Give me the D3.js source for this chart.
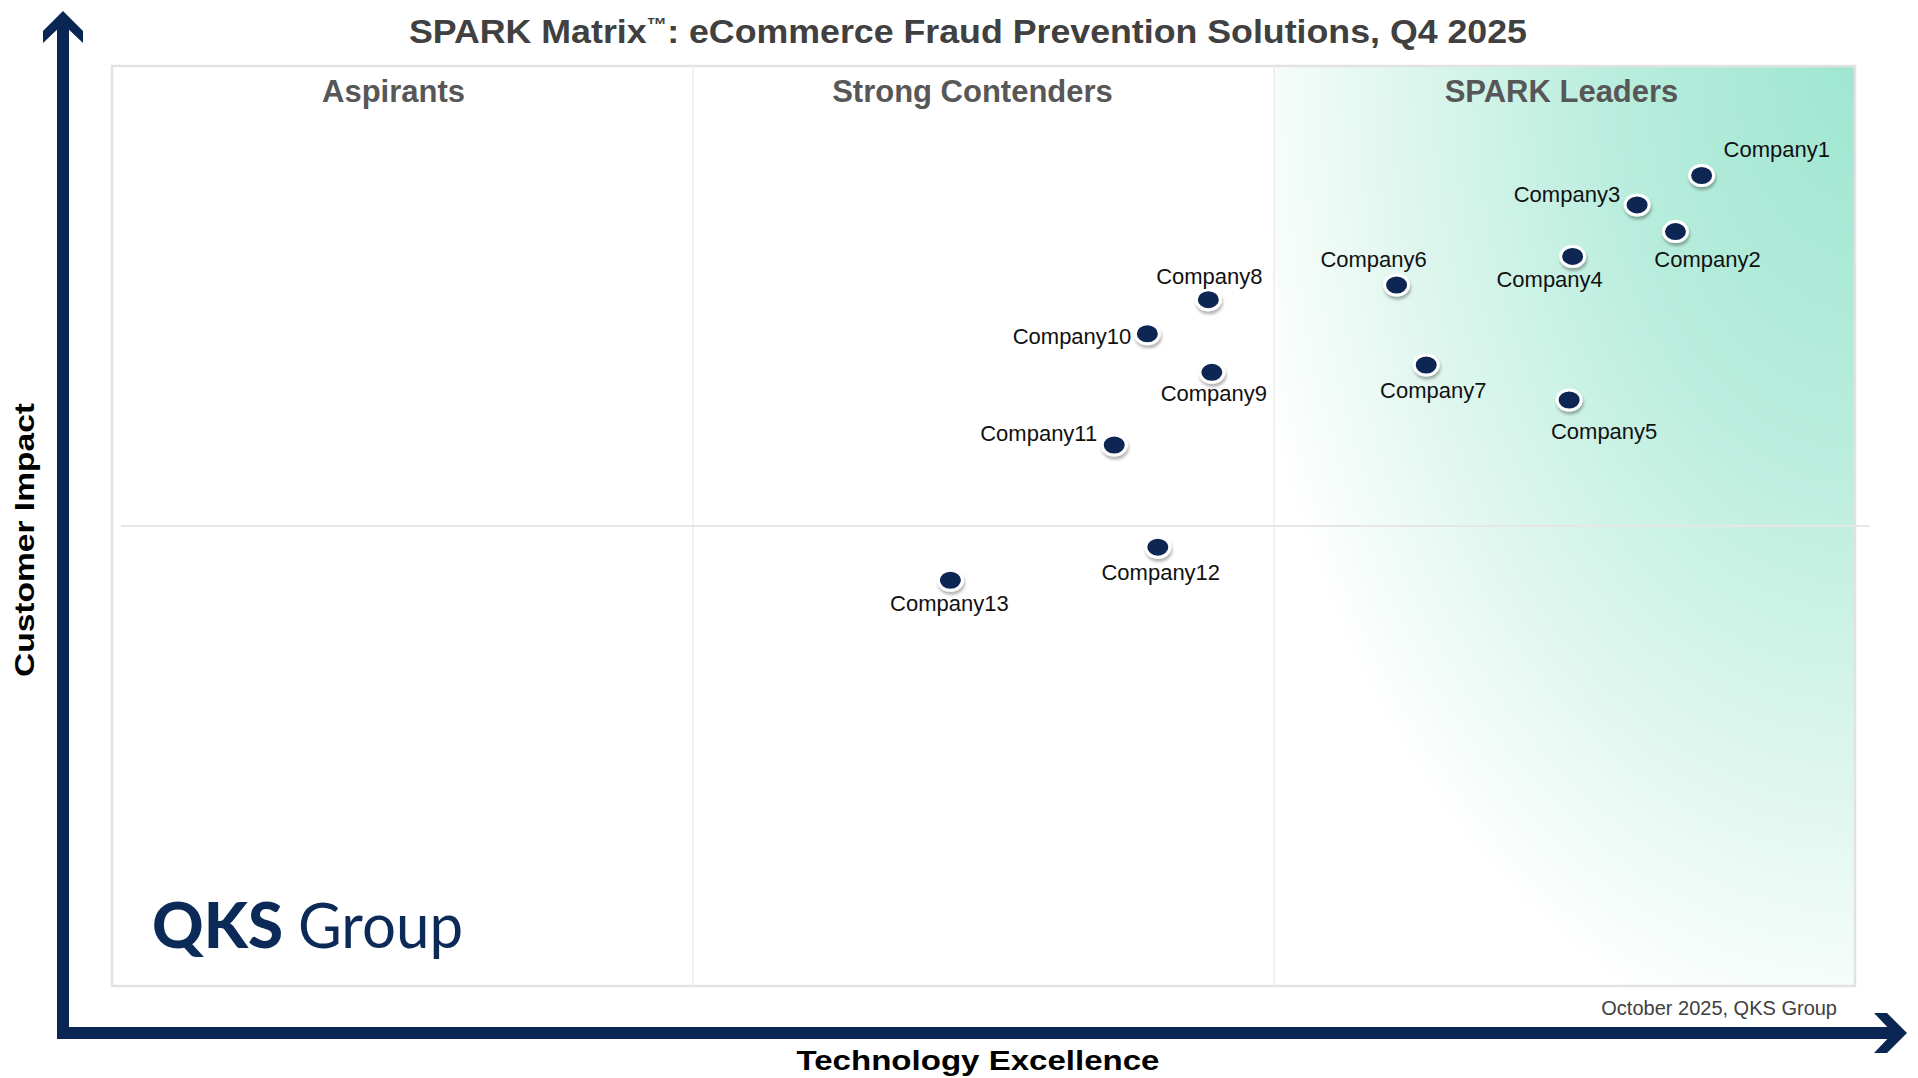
<!DOCTYPE html>
<html>
<head>
<meta charset="utf-8">
<script src="https://cdn.jsdelivr.net/npm/d3@7"></script>
<style>
  body { margin: 0; background: #fff; }
  svg { display: block; font-family: "Liberation Sans", Arial, sans-serif; }
</style>
</head>
<body>
<svg width="1918" height="1078"></svg>
<script>
// data (0-100 on both axes)
var companies = ["Company1", "Company2", "Company3", "Company4", "Company5", "Company6", "Company7",
                 "Company8", "Company9", "Company10", "Company11", "Company12", "Company13"];
var techExcellence = [91.2, 89.7, 87.5, 83.8, 83.6, 73.7, 75.4, 62.9, 63.1, 59.4, 57.5, 60.0, 48.1];
var customerImpact = [88.1, 82.0, 84.9, 79.3, 63.7, 76.2, 67.5, 74.6, 66.7, 70.9, 58.8, 47.7, 44.1];
var quadrants = ["Aspirants", "Strong Contenders", "SPARK Leaders"];

// where each label sits next to its dot
var labelPlace = [
  {anchor: "start", dx: 22, dy: -18},
  {anchor: "middle", dx: 32, dy: 35},
  {anchor: "end", dx: -17, dy: -3},
  {anchor: "middle", dx: -23, dy: 31},
  {anchor: "middle", dx: 35, dy: 39},
  {anchor: "middle", dx: -23, dy: -18},
  {anchor: "middle", dx: 7, dy: 33},
  {anchor: "middle", dx: 1, dy: -16},
  {anchor: "middle", dx: 2, dy: 29},
  {anchor: "end", dx: -16, dy: 10},
  {anchor: "end", dx: -17, dy: -4},
  {anchor: "middle", dx: 3, dy: 33},
  {anchor: "middle", dx: -1, dy: 31}
];

var svg = d3.select("svg");
var navy = "#0a2753";
// plot box (note: "top" is taken by window.top, so prefix everything)
var plotLeft = 112, plotRight = 1855, plotTop = 66, plotBottom = 986;

var x = d3.scaleLinear().domain([0, 100]).range([plotLeft, plotRight]);
var y = d3.scaleLinear().domain([0, 100]).range([plotBottom, plotTop]);

var defs = svg.append("defs");

// mint glow in the leaders column, strongest in the top right corner
var grad = defs.append("radialGradient")
    .attr("id", "leaders")
    .attr("cx", 1).attr("cy", 0).attr("r", 1.2)
    .attr("fx", 1).attr("fy", 0);
grad.append("stop").attr("offset", 0).attr("stop-color", "#9fe6d1");
grad.append("stop").attr("offset", 0.35).attr("stop-color", "#b9eddd");
grad.append("stop").attr("offset", 0.7).attr("stop-color", "#e4f8f1");
grad.append("stop").attr("offset", 0.9).attr("stop-color", "#ffffff");

var shadow = defs.append("filter").attr("id", "shadow")
    .attr("x", "-50%").attr("y", "-50%").attr("width", "200%").attr("height", "200%");
shadow.append("feDropShadow")
    .attr("dx", 1).attr("dy", 3).attr("stdDeviation", 1.5)
    .attr("flood-color", "#000").attr("flood-opacity", 0.3);

var col = [x(0), x(100 / 3), x(200 / 3), x(100)];

// leaders background
svg.append("rect")
    .attr("x", col[2]).attr("y", y(100))
    .attr("width", col[3] - col[2]).attr("height", y(0) - y(100))
    .attr("fill", "url(#leaders)");

// frame and dividers
svg.append("rect")
    .attr("x", plotLeft).attr("y", plotTop)
    .attr("width", plotRight - plotLeft).attr("height", plotBottom - plotTop)
    .attr("fill", "none").attr("stroke", "#e2e2e2").attr("stroke-width", 2.5);

svg.selectAll(".divider")
    .data([col[1], col[2]])
    .enter().append("line")
    .attr("class", "divider")
    .attr("x1", function(d) { return d; }).attr("x2", function(d) { return d; })
    .attr("y1", plotTop).attr("y2", plotBottom)
    .attr("stroke", "#ececec").attr("stroke-width", 1.5);

svg.append("line")
    .attr("x1", plotLeft + 9).attr("x2", plotRight + 15)
    .attr("y1", y(50)).attr("y2", y(50))
    .attr("stroke", "#e6e6e6").attr("stroke-width", 2);

// quadrant headings
var headOffset = [-9, -11, -3];
svg.selectAll(".quad")
    .data(quadrants)
    .enter().append("text")
    .attr("class", "quad")
    .attr("x", function(d, i) { return (col[i] + col[i + 1]) / 2 + headOffset[i]; })
    .attr("y", 102)
    .attr("text-anchor", "middle")
    .attr("font-size", 31)
    .attr("font-weight", "bold")
    .attr("fill", "#575757")
    .text(function(d) { return d; });

// title
var title = svg.append("text")
    .attr("x", 968).attr("y", 43)
    .attr("text-anchor", "middle")
    .attr("font-size", 33)
    .attr("font-weight", "bold")
    .attr("fill", "#404040")
    .attr("textLength", 1118)
    .attr("lengthAdjust", "spacingAndGlyphs");
title.append("tspan").text("SPARK Matrix");
title.append("tspan").attr("font-size", 19).attr("dy", -12).text("™");
title.append("tspan").attr("dy", 12).text(": eCommerce Fraud Prevention Solutions, Q4 2025");

// axes arrows
svg.append("rect").attr("x", 57).attr("y", 22).attr("width", 12).attr("height", 1017).attr("fill", navy);
svg.append("rect").attr("x", 57).attr("y", 1027).attr("width", 1838).attr("height", 12).attr("fill", navy);
svg.append("polygon")
    .attr("points", "63,11 83,31 83,43 63,24 43,43 43,31")
    .attr("fill", navy);
svg.append("polygon")
    .attr("points", "1874,1013 1887,1013 1907,1033 1887,1053 1874,1053 1893,1033")
    .attr("fill", navy);

// axis titles
svg.append("text")
    .attr("transform", "translate(34,540) rotate(-90)")
    .attr("text-anchor", "middle")
    .attr("font-size", 27)
    .attr("font-weight", "bold")
    .attr("fill", "#000")
    .attr("textLength", 274)
    .attr("lengthAdjust", "spacingAndGlyphs")
    .text("Customer Impact");

svg.append("text")
    .attr("x", 978).attr("y", 1070)
    .attr("text-anchor", "middle")
    .attr("font-size", 27)
    .attr("font-weight", "bold")
    .attr("fill", "#000")
    .attr("textLength", 363)
    .attr("lengthAdjust", "spacingAndGlyphs")
    .text("Technology Excellence");

svg.append("text")
    .attr("x", 1837).attr("y", 1015)
    .attr("text-anchor", "end")
    .attr("font-size", 20)
    .attr("fill", "#404040")
    .text("October 2025, QKS Group");

// QKS Group logo
svg.append("text")
    .attr("x", 152).attr("y", 948)
    .attr("font-family", "Lato, 'Open Sans', sans-serif")
    .attr("font-size", 62)
    .attr("font-weight", 900)
    .attr("fill", "#0c2a57")
    .attr("textLength", 131)
    .attr("lengthAdjust", "spacingAndGlyphs")
    .text("QKS");
svg.append("text")
    .attr("x", 298).attr("y", 948)
    .attr("font-family", "Lato, 'Open Sans', sans-serif")
    .attr("font-size", 62)
    .attr("font-weight", 400)
    .attr("fill", "#0c2a57")
    .attr("textLength", 165)
    .attr("lengthAdjust", "spacingAndGlyphs")
    .text("Group");

// the companies
var points = companies.map(function(name, i) {
  return {name: name, x: techExcellence[i], y: customerImpact[i], place: labelPlace[i]};
});

var dots = svg.append("g").attr("class", "dots");

dots.selectAll("ellipse")
    .data(points)
    .enter().append("ellipse")
    .attr("cx", function(d) { return x(d.x); })
    .attr("cy", function(d) { return y(d.y); })
    .attr("rx", 12).attr("ry", 10)
    .attr("fill", "#0b2553")
    .attr("stroke", "#fff").attr("stroke-width", 3)
    .attr("filter", "url(#shadow)");

dots.selectAll("text")
    .data(points)
    .enter().append("text")
    .attr("x", function(d) { return x(d.x) + d.place.dx; })
    .attr("y", function(d) { return y(d.y) + d.place.dy; })
    .attr("text-anchor", function(d) { return d.place.anchor; })
    .attr("font-size", 22)
    .attr("fill", "#111")
    .text(function(d) { return d.name; });
</script>
</body>
</html>
